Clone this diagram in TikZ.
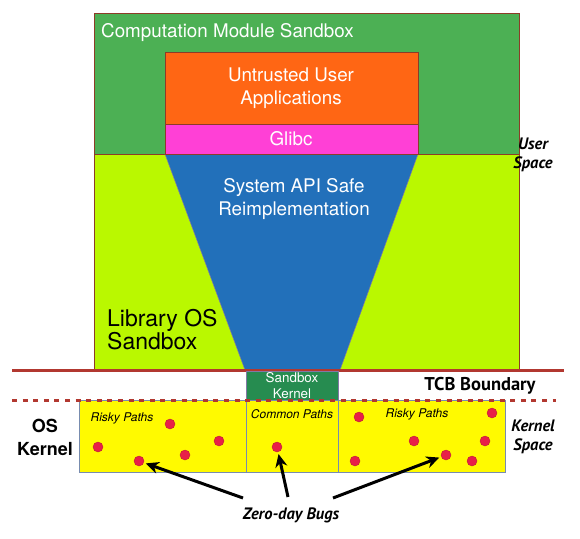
\documentclass[tikz,border=0pt]{standalone}
\usepackage{fontspec}
\setmainfont{TeX Gyre Heros}
\newfontfamily\optfont{PT Sans}
\usetikzlibrary{arrows.meta,calc}
\definecolor{cmsgreen}{RGB}{76,176,84}
\definecolor{libLime}{RGB}{186,248,0}
\definecolor{appOrange}{RGB}{255,102,20}
\definecolor{glibMag}{RGB}{255,64,214}
\definecolor{apiBlue}{RGB}{34,112,186}
\definecolor{kerGreen}{RGB}{38,140,80}
\definecolor{pathYellow}{RGB}{255,250,0}
\definecolor{bugRed}{RGB}{232,32,72}
\definecolor{bugEdge}{RGB}{190,30,50}
\definecolor{tcbRed}{RGB}{178,56,48}
\definecolor{frameBrown}{RGB}{140,60,40}
\definecolor{pathEdge}{RGB}{120,140,175}
\definecolor{kerEdge}{RGB}{130,120,165}
\tikzset{
  region/.style={draw=frameBrown, line width=0.9pt},
  pathbox/.style={draw=pathEdge, fill=pathYellow, line width=0.9pt},
  bug/.style={circle, fill=bugRed, draw=bugEdge, line width=0.4pt, inner sep=0pt, minimum size=10pt},
  whitetxt/.style={text=white, font=\fontsize{18.8}{22.5}\selectfont, align=center, inner sep=0pt},
  pathlbl/.style={font=\fontsize{12}{14}\selectfont\itshape, inner sep=0pt},
  sidelbl/.style={font=\optfont\fontsize{16.5}{19.5}\selectfont\bfseries\itshape, align=center, inner sep=0pt},
  bugarrow/.style={line width=3pt, -{Stealth[length=13pt,width=12pt]}},
}
\begin{document}
\begin{tikzpicture}[x=1pt,y=-1pt]
\useasboundingbox (0,0) rectangle (580,538);
% library OS sandbox (lime) and computation module sandbox (green)
\fill[libLime] (94,154) rectangle (519,370);
\draw[region] (94,154) -- (94,370) (519,154) -- (519,370);
\draw[region, fill=cmsgreen] (94,13) rectangle (519,154);
% system API trapezoid
\draw[fill=apiBlue, draw=kerEdge, line width=0.5pt] (165,154) -- (418,154) -- (340,370) -- (245,370) -- cycle;
% applications and glibc
\draw[region, fill=appOrange] (165,52) rectangle (418,124);
\draw[region, fill=glibMag] (165,124) rectangle (418,154);
% TCB solid line
\draw[tcbRed, line width=3pt] (12,370) -- (564,370);
% sandbox kernel
\draw[fill=kerGreen, draw=kerEdge, line width=0.8pt] (246,371.5) rectangle (338,400);
% kernel path boxes
\draw[pathbox] (79,400) rectangle (246,472);
\draw[pathbox] (246,400) rectangle (338,472);
\draw[pathbox] (338,400) rectangle (505,472);
% dashed boundary
\draw[tcbRed, line width=3pt, dash pattern=on 5pt off 5.6pt] (12,400) -- (556,400);

% texts
\node[whitetxt, anchor=west] (tcms) at (101,33) {Computation Module Sandbox};
\node[whitetxt] (tapp) at (291,88) {Untrusted User\\Applications};
\node[whitetxt] (tglibc) at (291,139) {Glibc};
\node[whitetxt] (tapi) at (294,199) {System API Safe\\Reimplementation};
\node[font=\fontsize{23}{23}\selectfont, align=left, anchor=west, inner sep=0pt] (tlib) at (107,330) {Library OS\\Sandbox};
\node[text=white, font=\fontsize{13.4}{16}\selectfont, align=center, inner sep=0pt] (tsk) at (292,385.5) {Sandbox\\Kernel};
\node[sidelbl] (tuser) at (533,155) {User\\Space};
\node[sidelbl] (tkspace) at (533,437) {Kernel\\Space};
\node[font=\optfont\fontsize{18.5}{20}\selectfont\bfseries, inner sep=0pt] (ttcb) at (480,386) {TCB Boundary};
\node[font=\fontsize{18}{23}\selectfont\bfseries, align=center, inner sep=0pt] (tos) at (45,437) {OS\\Kernel};
\node[pathlbl] (trisk1) at (122,418) {Risky Paths};
\node[pathlbl] (tcommon) at (292,414) {Common Paths};
\node[pathlbl] (trisk2) at (417,414) {Risky Paths};
\node[sidelbl] (tzero) at (291,515) {Zero-day Bugs};

% bugs
\node[bug] (b1) at (170,424) {};
\node[bug] (b2) at (98,447) {};
\node[bug] (b3) at (139,461) {};
\node[bug] (b4) at (185,455) {};
\node[bug] (b5) at (219,441) {};
\node[bug] (b6) at (277,447) {};
\node[bug] (b7) at (359,417) {};
\node[bug] (b8) at (492,413) {};
\node[bug] (b9) at (414,441) {};
\node[bug] (b10) at (485,441) {};
\node[bug] (b11) at (355,461) {};
\node[bug] (b12) at (446,455) {};
\node[bug] (b13) at (472,461) {};

% arrows
\coordinate (zl) at (243,498);
\coordinate (zm) at (288,497);
\coordinate (zr) at (333,498);
\draw[bugarrow, shorten >=2pt] (zl) -- (b3);
\draw[bugarrow, shorten >=2pt] (zm) -- (b6);
\draw[bugarrow, shorten >=2pt] (zr) -- (b12);
\end{tikzpicture}
\end{document}
